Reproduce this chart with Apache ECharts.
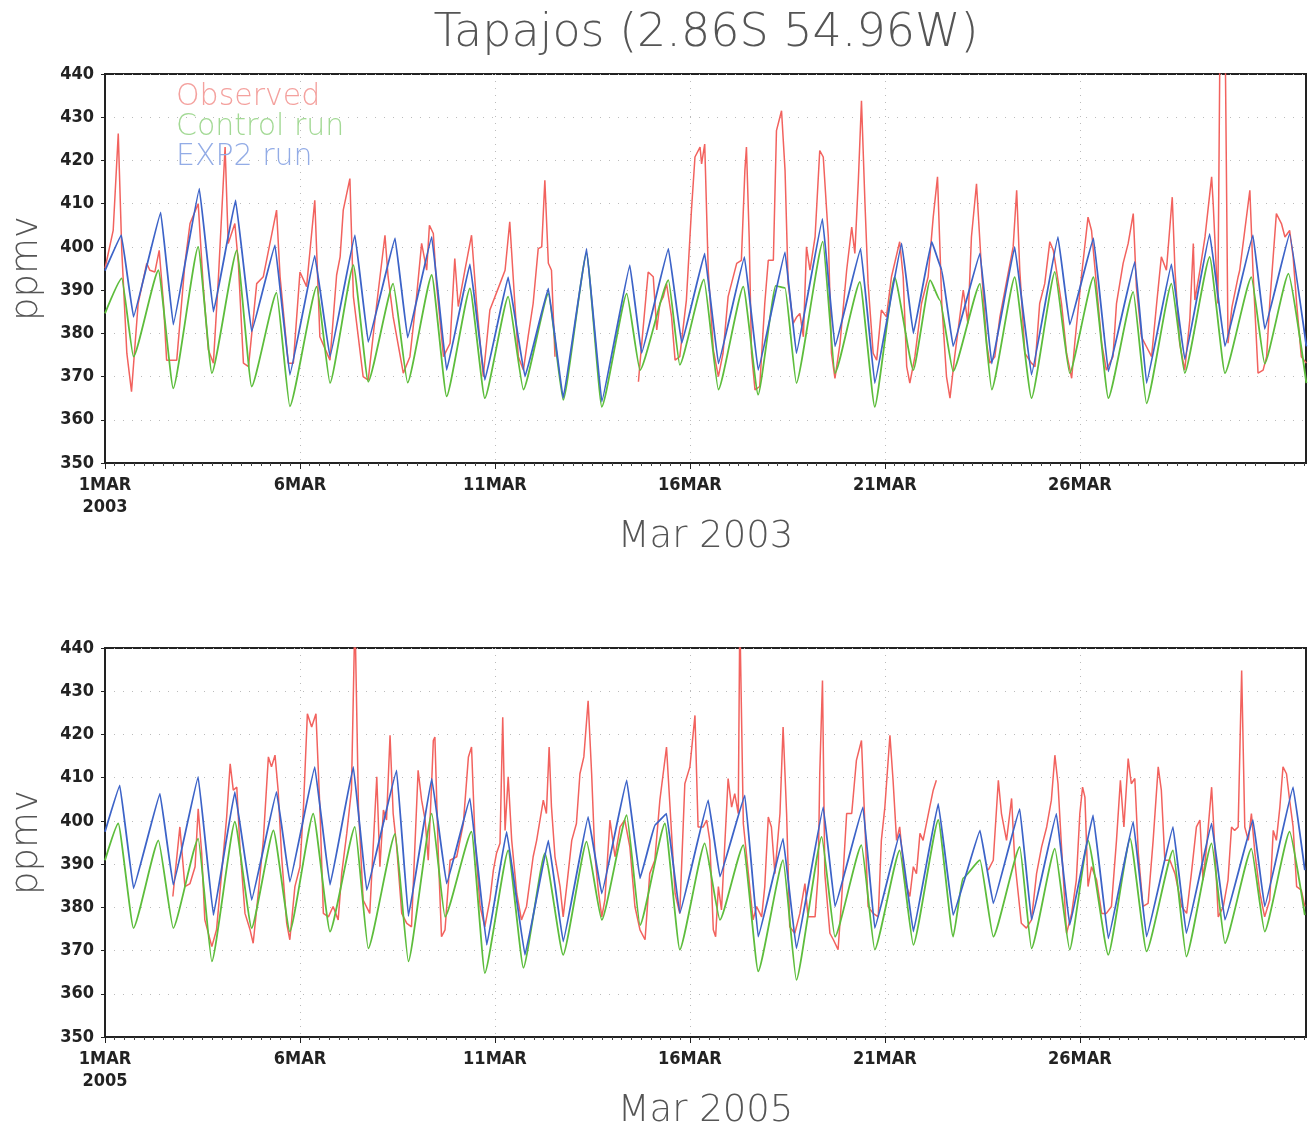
<!DOCTYPE html>
<html>
<head>
<meta charset="utf-8">
<script src="https://cdn.jsdelivr.net/npm/echarts@6/dist/echarts.min.js"></script>
<style>
  html, body { margin: 0; background: #fff; }
  #chart { width: 1316px; height: 1127px; }
</style>
</head>
<body>
<div id="chart"></div>
<script>
// axis ticks: day index since 1 Mar 00Z
const dayTicks = [0, 5, 10, 15, 20, 25]
const tickNames = ['1MAR', '6MAR', '11MAR', '16MAR', '21MAR', '26MAR']
const years = ['2003', '2005']
const seriesNames = ['Observed', 'Control run', 'EXP2 run']

// each point: [day since 1 Mar 00Z, CO2 ppmv]; '-' marks missing observations
const obs2003 = [
  [0, 395], [0.21, 403.8], [0.34, 426.2], [0.43, 399.2], [0.56, 375.4], [0.68, 366.5], [0.85, 386.9],
  [1.07, 396.2], [1.15, 394.6], [1.28, 394.2], [1.39, 399.2], [1.5, 386.9], [1.58, 373.8], [1.84, 373.8],
  [2.05, 396.2], [2.18, 405.4], [2.39, 410], [2.52, 390.8], [2.65, 376.2], [2.78, 373.1], [2.91, 393.1],
  [3.08, 423.1], [3.16, 400.8], [3.33, 405.4], [3.42, 396.2], [3.55, 373.1], [3.68, 372.3], [3.89, 391.5],
  [4.06, 393.1], [4.4, 408.5], [4.49, 393.1], [4.7, 373.1], [4.83, 373.1], [5.0, 394.2], [5.17, 390.8],
  [5.38, 410.8], [5.51, 379.2], [5.77, 373.8], [5.94, 393.5], [6.03, 397.7], [6.11, 408.5], [6.28, 415.8],
  [6.37, 388.5], [6.62, 370], [6.75, 369.2], [6.97, 386.9], [7.18, 402.7], [7.26, 393.1], [7.39, 383.8],
  [7.65, 370.8], [7.82, 374.6], [7.99, 388.5], [8.12, 400.8], [8.25, 394.6], [8.32, 405], [8.42, 403.1],
  [8.5, 391.5], [8.68, 374.6], [8.85, 377.7], [8.97, 397.3], [9.06, 386.2], [9.23, 394.6], [9.4, 402.7],
  [9.53, 386.9], [9.7, 370], [9.87, 385.4], [10.13, 391.5], [10.26, 394.6], [10.38, 405.8], [10.51, 386.9],
  [10.6, 374.6], [10.73, 371.5], [10.85, 379.2], [10.98, 386.9], [11.11, 399.6], [11.2, 400], [11.28, 415.4],
  [11.37, 396.2], [11.45, 394.6], [11.54, 374.6], [11.6, '-'], [13.68, 368.8], [13.72, 373.1], [13.93, 394.2],
  [14.06, 393.1], [14.15, 380.8], [14.23, 386.9], [14.32, 388.5], [14.4, 391.5], [14.53, 383.8], [14.62, 373.8],
  [14.74, 374.6], [14.91, 387.7], [15.04, 408.5], [15.13, 420.8], [15.26, 423.1], [15.3, 419.2], [15.38, 423.8],
  [15.47, 394.6], [15.6, 376.2], [15.73, 370], [15.85, 375.4], [15.98, 388.5], [16.2, 396.2], [16.32, 396.9],
  [16.41, 417.7], [16.45, 423.1], [16.52, 402.3], [16.58, 375.4], [16.67, 366.9], [16.79, 367.7], [16.92, 386.9],
  [17.01, 396.9], [17.14, 396.9], [17.22, 426.9], [17.35, 431.5], [17.44, 417.7], [17.52, 391.5], [17.65, 382.3],
  [17.74, 383.8], [17.82, 384.6], [17.91, 379.2], [17.99, 400], [18.08, 394.6], [18.21, 402.3], [18.33, 422.3],
  [18.42, 420.8], [18.55, 402.3], [18.63, 375.4], [18.72, 369.6], [18.85, 377.7], [19.02, 394.6], [19.15, 404.6],
  [19.23, 398.5], [19.32, 415.4], [19.4, 433.8], [19.49, 410], [19.57, 391.5], [19.7, 375.4], [19.79, 373.8],
  [19.91, 385.4], [20.04, 383.8], [20.17, 393.1], [20.38, 401.2], [20.47, 393.1], [20.56, 372.3], [20.64, 368.5],
  [20.77, 374.6], [20.94, 386.9], [21.11, 393.1], [21.24, 406.9], [21.35, 416.2], [21.46, 386.9], [21.58, 370],
  [21.67, 365], [21.79, 374.6], [22.01, 390], [22.13, 382.3], [22.22, 402.3], [22.35, 414.6], [22.48, 394.6],
  [22.61, 377.7], [22.69, 373.1], [22.82, 374.6], [22.95, 383.8], [23.08, 390], [23.29, 400], [23.38, 413.1],
  [23.46, 394.6], [23.59, 375.4], [23.76, 373.1], [23.85, 372.3], [23.97, 386.9], [24.1, 391.5], [24.23, 401.2],
  [24.32, 399.2], [24.4, 394.6], [24.53, 386.9], [24.66, 375.4], [24.79, 369.6], [24.87, 377.7], [25.04, 393.1],
  [25.21, 406.9], [25.3, 403.8], [25.43, 390.8], [25.56, 377.7], [25.68, 371.5], [25.85, 374.6], [25.94, 386.9],
  [26.11, 396.2], [26.24, 400.8], [26.37, 407.7], [26.45, 390.8], [26.58, 379.2], [26.71, 376.9], [26.84, 374.6],
  [26.97, 386.9], [27.09, 397.7], [27.22, 394.6], [27.37, 411.5], [27.44, 394.6], [27.56, 377.7], [27.69, 371.5],
  [27.82, 383.1], [27.91, 400.8], [27.95, 387.7], [28.08, 394.6], [28.21, 402.3], [28.38, 416.2], [28.42, 410],
  [28.54, 386.9], [28.6, 455], [28.72, 455], [28.8, 377.7], [28.9, 386], [29.06, 393.1], [29.1, 394.6],
  [29.23, 403.8], [29.36, 413.1], [29.44, 394.6], [29.57, 370.8], [29.7, 371.5], [29.79, 374.6], [29.87, 386.9],
  [30.04, 407.7], [30.17, 405.4], [30.26, 402.3], [30.38, 403.8], [30.47, 397.7], [30.56, 386.9], [30.68, 374.6],
  [30.81, 373.1]
]

const ctl2003 = [
  [0, 384.6], [0.43, 392.7], [0.73, 374.6], [1.37, 394.6], [1.75, 367.3], [2.39, 400], [2.74, 370.8],
  [3.38, 399.2], [3.76, 367.7], [4.4, 389.4], [4.74, 363.1], [5.43, 390.8], [5.77, 368.5], [6.37, 395.8],
  [6.75, 368.8], [7.39, 391.5], [7.76, 368.6], [8.38, 393.5], [8.76, 365.4], [9.36, 390.4], [9.74, 365],
  [10.34, 388.5], [10.73, 367], [11.37, 389.2], [11.75, 364.6], [12.35, 398.5], [12.74, 363], [13.38, 389.2],
  [13.72, 371.5], [14.45, 392.3], [14.74, 372.7], [15.36, 392.5], [15.73, 367], [16.37, 390.8], [16.75, 365.8],
  [17.2, 391], [17.44, 390.5], [17.73, 368.5], [18.41, 401.2], [18.72, 370.8], [19.36, 391.9], [19.74, 363],
  [20.25, 393], [20.73, 371.5], [21.16, 392.3], [21.41, 387.7], [21.75, 371.2], [22.44, 391.5], [22.74, 367],
  [23.33, 393], [23.76, 365], [24.36, 394.2], [24.74, 370.8], [25.35, 393], [25.73, 365], [26.37, 389.6],
  [26.71, 363.8], [27.35, 391.5], [27.69, 370.8], [28.33, 397.7], [28.72, 370.8], [29.4, 393], [29.74, 373],
  [30.35, 393.8], [30.81, 368.5]
]

const exp2003 = [
  [0, 394.5], [0.42, 402.7], [0.73, 383.8], [1.43, 408], [1.75, 382], [2.42, 413.5], [2.78, 385],
  [3.35, 410.8], [3.76, 380.4], [4.36, 400.4], [4.74, 370.4], [5.38, 398], [5.77, 374.6], [6.41, 402.7],
  [6.75, 378], [7.44, 402], [7.76, 379], [8.38, 402.3], [8.76, 371.5], [9.36, 396], [9.74, 369.2],
  [10.34, 393], [10.77, 370], [11.37, 390.4], [11.75, 365], [12.35, 399.6], [12.74, 364.2], [13.46, 395.8],
  [13.76, 375.4], [14.45, 399.6], [14.79, 377.7], [15.38, 398.5], [15.73, 373], [16.4, 397.7], [16.75, 371.5],
  [17.44, 398.8], [17.73, 375.4], [18.4, 406.5], [18.72, 377], [19.38, 399.6], [19.74, 368.5], [20.43, 400.8],
  [20.73, 380], [21.2, 401.2], [21.46, 394.6], [21.75, 377], [22.44, 398.5], [22.74, 373], [23.33, 400],
  [23.76, 370.4], [24.44, 402.3], [24.74, 382], [25.35, 402], [25.73, 371.2], [26.41, 396.5], [26.71, 368.5],
  [27.35, 396], [27.69, 374], [28.33, 403], [28.72, 377], [29.44, 402.7], [29.74, 381], [30.38, 403],
  [30.81, 377]
]

const obs2005 = [
  [1.74, 382.5], [1.92, 398.6], [2.05, 384.8], [2.18, 385.5], [2.31, 389.4], [2.39, 402.8], [2.48, 392.5],
  [2.56, 377.1], [2.74, 370.9], [2.86, 374.8], [2.99, 387.8], [3.12, 400.9], [3.21, 413.2], [3.29, 407.1],
  [3.38, 407.8], [3.46, 394], [3.59, 378.6], [3.72, 374.8], [3.8, 371.7], [3.93, 383.2], [4.06, 395.5],
  [4.19, 414.8], [4.27, 412.5], [4.36, 415.2], [4.44, 407.1], [4.53, 391.7], [4.66, 376.3], [4.74, 372.5],
  [4.87, 384.8], [5.0, 389.4], [5.09, 403.2], [5.19, 424.8], [5.3, 421.7], [5.41, 424.8], [5.51, 403.2],
  [5.6, 378.6], [5.73, 377.8], [5.85, 380.2], [5.98, 377.1], [6.07, 387.8], [6.2, 397.1], [6.32, 407.1],
  [6.41, 448], [6.5, 403.2], [6.62, 381.7], [6.79, 378.6], [6.97, 410.2], [7.05, 389.4], [7.14, 402.5],
  [7.22, 400.2], [7.31, 419.8], [7.39, 401.7], [7.48, 394], [7.61, 378.6], [7.74, 376.3], [7.86, 375.5],
  [8.03, 411.7], [8.12, 404.8], [8.21, 400.2], [8.29, 390.9], [8.38, 409.4], [8.42, 418.6], [8.46, 419.4],
  [8.55, 391.7], [8.63, 373.2], [8.72, 374.8], [8.85, 390.9], [9.02, 391.7], [9.19, 399.4], [9.32, 414.8],
  [9.4, 417.1], [9.49, 395.5], [9.62, 380.2], [9.74, 375.5], [9.87, 381.7], [9.96, 388.6], [10.04, 392.5],
  [10.13, 394.8], [10.2, 424], [10.26, 397.8], [10.34, 410.2], [10.43, 395.5], [10.56, 383.2], [10.68, 377.1],
  [10.81, 380.2], [10.98, 391.7], [11.07, 395.5], [11.24, 404.8], [11.32, 401.7], [11.39, 417.1], [11.45, 403.2],
  [11.54, 391.7], [11.67, 384.8], [11.75, 377.8], [11.84, 384.8], [11.97, 395.5], [12.09, 399.4], [12.18, 410.9],
  [12.28, 414.8], [12.39, 427.8], [12.48, 410.9], [12.56, 392.5], [12.65, 384], [12.74, 377.8], [12.82, 381.7],
  [12.95, 400.2], [13.08, 391.7], [13.21, 398.6], [13.33, 400.2], [13.46, 394], [13.59, 380.2], [13.72, 374.8],
  [13.85, 372.5], [13.97, 387.8], [14.1, 390.9], [14.23, 404.8], [14.4, 417.1], [14.49, 403.2], [14.62, 383.2],
  [14.74, 378.6], [14.87, 408.6], [15.0, 412.5], [15.13, 424.4], [15.21, 398.6], [15.34, 398.6], [15.43, 400.2],
  [15.51, 395.5], [15.6, 374.8], [15.66, 373.2], [15.73, 384.8], [15.81, 379.4], [15.98, 409.8], [16.07, 403.2],
  [16.15, 406.3], [16.24, 401.7], [16.28, 448], [16.37, 399.4], [16.5, 387.8], [16.62, 377.1], [16.71, 380.2],
  [16.84, 377.8], [16.92, 384.8], [17.01, 400.9], [17.09, 398.6], [17.18, 387.8], [17.31, 401.7], [17.39, 421.7],
  [17.48, 401.7], [17.56, 375.5], [17.69, 374], [17.82, 378.6], [17.95, 385.5], [18.03, 377.8], [18.21, 377.8],
  [18.29, 387.8], [18.33, 410.9], [18.4, 432.5], [18.46, 387.8], [18.59, 374], [18.68, 372.5], [18.8, 370.2],
  [18.89, 381.7], [19.02, 401.7], [19.15, 401.7], [19.27, 414], [19.4, 418.6], [19.49, 398.6], [19.57, 380.2],
  [19.7, 378.6], [19.83, 377.8], [19.91, 395.5], [20.0, 403.2], [20.13, 419.8], [20.21, 409.4], [20.3, 395.5],
  [20.38, 398.6], [20.51, 386.3], [20.64, 382.5], [20.73, 389.4], [20.81, 387.8], [20.9, 397.1], [20.98, 395.5],
  [21.15, 403.2], [21.24, 407.1], [21.32, 409.4], [21.4, '-'], [22.65, 388.6], [22.78, 390.9], [22.91, 409.4],
  [22.99, 401.7], [23.12, 395.5], [23.25, 405.2], [23.33, 390.9], [23.5, 376.3], [23.63, 375.2], [23.76, 377.1],
  [23.89, 387.8], [24.02, 394], [24.15, 398.6], [24.27, 404.8], [24.36, 415.2], [24.44, 408.6], [24.53, 394],
  [24.66, 374], [24.79, 378.6], [24.91, 386.3], [25.0, 401.7], [25.07, 407.8], [25.13, 405.5], [25.21, 384.8],
  [25.3, 389.4], [25.43, 386.3], [25.56, 378.6], [25.68, 378.6], [25.81, 380.2], [25.94, 395.5], [26.04, 409.4],
  [26.13, 398.6], [26.24, 414.4], [26.32, 408.6], [26.41, 409.8], [26.5, 392.5], [26.62, 380.2], [26.75, 380.9],
  [26.88, 395.5], [27.01, 412.5], [27.09, 407.1], [27.18, 390.9], [27.31, 390.9], [27.44, 387.8], [27.61, 380.2],
  [27.74, 378.6], [27.86, 387.8], [27.99, 398.6], [28.08, 400.2], [28.16, 386.3], [28.25, 394], [28.38, 407.8],
  [28.46, 394], [28.55, 377.8], [28.68, 380.2], [28.8, 386.3], [28.89, 398.6], [28.97, 397.8], [29.06, 398.6],
  [29.15, 434.8], [29.23, 398.6], [29.32, 395.5], [29.4, 401.7], [29.49, 392.5], [29.62, 383.2], [29.74, 377.8],
  [29.87, 381.7], [29.96, 397.8], [30.04, 395.5], [30.13, 403.2], [30.21, 412.5], [30.3, 410.9], [30.38, 404.8],
  [30.47, 398.6], [30.56, 384.8], [30.68, 384], [30.77, 380.2]
]

const ctl2005 = [
  [0, 390.9], [0.34, 399.4], [0.73, 375.2], [1.37, 395.5], [1.75, 375.2], [2.39, 395.9], [2.74, 367.5],
  [3.33, 399.8], [3.76, 375.2], [4.32, 397.8], [4.74, 374.4], [5.34, 401.7], [5.77, 374.4], [6.41, 398.6],
  [6.75, 370.5], [7.44, 397], [7.78, 367.5], [8.38, 401.7], [8.72, 377.8], [9.4, 397.5], [9.74, 364.8],
  [10.34, 393.2], [10.73, 366], [11.28, 392.5], [11.75, 369], [12.35, 395.2], [12.74, 377.1], [13.38, 401.3],
  [13.72, 375.9], [14.36, 399.4], [14.74, 370.2], [15.38, 394.8], [15.77, 377.1], [16.37, 394.4], [16.75, 365.2],
  [17.39, 390.9], [17.73, 363.2], [18.38, 396.3], [18.72, 373.2], [19.4, 394.4], [19.74, 370.2], [20.38, 393.2],
  [20.73, 371.3], [21.37, 400.2], [21.75, 373.2], [22.0, 386.7], [22.44, 390.9], [22.78, 373.2], [23.46, 394],
  [23.76, 370.5], [24.36, 393.6], [24.74, 370.2], [25.21, 395.5], [25.73, 369], [26.29, 395.9], [26.71, 369.8],
  [27.39, 393.2], [27.73, 368.6], [28.38, 394.8], [28.72, 371.7], [29.4, 393.6], [29.74, 374.4], [30.38, 397.5],
  [30.77, 378.2]
]

const exp2005 = [
  [0, 397.5], [0.38, 408.2], [0.73, 384.4], [1.41, 406.3], [1.75, 385.2], [2.39, 410.2], [2.78, 378.2],
  [3.33, 406.7], [3.76, 381.7], [4.4, 406.7], [4.74, 385.9], [5.38, 412.5], [5.77, 385.2], [6.37, 412.5],
  [6.71, 384], [7.48, 411.7], [7.78, 378], [8.38, 409.8], [8.76, 385.5], [9.36, 405.2], [9.79, 371.3],
  [10.3, 397.5], [10.77, 369], [11.37, 395.5], [11.75, 372.1], [12.39, 400.9], [12.74, 383.2], [13.38, 409.4],
  [13.72, 386.7], [14.1, 399], [14.4, 401.7], [14.74, 378.6], [15.47, 404.8], [15.77, 387.1], [16.41, 405.9],
  [16.75, 373.2], [17.39, 395.9], [17.73, 370.5], [18.42, 403.2], [18.72, 380.2], [19.44, 403.2], [19.74, 375.2],
  [20.38, 397], [20.73, 374.4], [21.37, 404], [21.75, 378.2], [22.44, 397.8], [22.78, 380.9], [23.46, 402.8],
  [23.76, 377.1], [24.4, 401.7], [24.74, 375.9], [25.34, 401.3], [25.73, 372.8], [26.37, 399.8], [26.71, 373.2],
  [27.39, 398.6], [27.73, 374], [28.38, 399.4], [28.72, 377.1], [29.44, 400.2], [29.74, 380.2], [30.47, 407.8],
  [30.77, 388.6]
]

const panels = [
  { obs: obs2003, ctl: ctl2003, exp: exp2003 },
  { obs: obs2005, ctl: ctl2005, exp: exp2005 }
]

const lineColors = ['#f2625e', '#5dbd3c', '#3c63c8']
const legendColors = ['#f4a19e', '#a3d995', '#93ace6']
const smoothness = [false, 0.15, 0.06]
const textFont = 'DejaVu Sans'
const tickFont = '"DejaVu Sans Condensed", "DejaVu Sans", sans-serif'

const chart = echarts.init(document.getElementById('chart'))

const grids = [], xAxes = [], yAxes = [], series = []

panels.forEach((p, i) => {
  grids.push({
    left: 105, right: 10, top: i === 0 ? 74 : 648, height: 389,
    outerBoundsMode: 'none', containLabel: false,
    show: true, borderColor: '#222', borderWidth: 2, backgroundColor: 'transparent'
  })
  xAxes.push({
    gridIndex: i, type: 'value', min: 0, max: 30.8, interval: 5,
    name: 'Mar ' + years[i], nameLocation: 'middle', nameGap: 51,
    nameTextStyle: { fontFamily: textFont, fontWeight: 200, fontSize: 37, color: '#555' },
    axisLine: { show: true, lineStyle: { color: '#222', width: 2 } },
    axisTick: { show: true, customValues: dayTicks, length: 6, lineStyle: { color: '#222' } },
    minorTick: { show: true, splitNumber: 20, length: 3, lineStyle: { color: '#444' } },
    axisLabel: {
      customValues: dayTicks, margin: 11, lineHeight: 22,
      fontFamily: tickFont, fontWeight: 'bold', fontSize: 18, color: '#222',
      formatter: v => {
        const k = dayTicks.indexOf(v)
        return k === 0 ? tickNames[k] + '\n' + years[i] : tickNames[k]
      }
    },
    splitLine: { show: true, lineStyle: { color: '#bbb', type: [1, 6], width: 1 } }
  })
  yAxes.push({
    gridIndex: i, type: 'value', min: 350, max: 440, interval: 10,
    name: 'ppmv', nameLocation: 'middle', nameGap: 59,
    nameTextStyle: { fontFamily: textFont, fontWeight: 200, fontSize: 37, color: '#555' },
    axisLine: { show: true, lineStyle: { color: '#222', width: 2 } },
    axisTick: { show: true, length: 4, lineStyle: { color: '#222' } },
    axisLabel: { margin: 11, fontFamily: tickFont, fontWeight: 'bold', fontSize: 18, color: '#222' },
    splitLine: { show: true, lineStyle: { color: '#bbb', type: [1, 8], width: 1 } }
  })
  const sets = [p.obs, p.ctl, p.exp]
  sets.forEach((d, k) => {
    series.push({
      name: seriesNames[k], type: 'line', xAxisIndex: i, yAxisIndex: i,
      data: d, showSymbol: false, symbol: 'none',
      smooth: smoothness[k], smoothMonotone: 'x',
      clip: true, connectNulls: false,
      lineStyle: { color: lineColors[k], width: k === 0 ? 1.5 : 1.8 },
      itemStyle: { color: lineColors[k] },
      z: 2 + k
    })
  })
})

chart.setOption({
  backgroundColor: '#fff',
  animation: false,
  graphic: [{
    type: 'text', x: 706, y: 34,
    style: {
      text: 'Tapajos (2.86S 54.96W)', align: 'center', verticalAlign: 'middle',
      font: '200 46px "DejaVu Sans"', fill: '#555'
    }
  }],
  legend: {
    orient: 'vertical', left: 166, top: 77, itemGap: 0,
    icon: 'none', itemWidth: 0, itemHeight: 28, selectedMode: false,
    textStyle: { fontFamily: textFont, fontWeight: 200, fontSize: 30, lineHeight: 28, padding: 0 },
    data: seriesNames.map((n, k) => ({ name: n, textStyle: { color: legendColors[k] } }))
  },
  grid: grids,
  xAxis: xAxes,
  yAxis: yAxes,
  series: series
})
</script>
</body>
</html>
